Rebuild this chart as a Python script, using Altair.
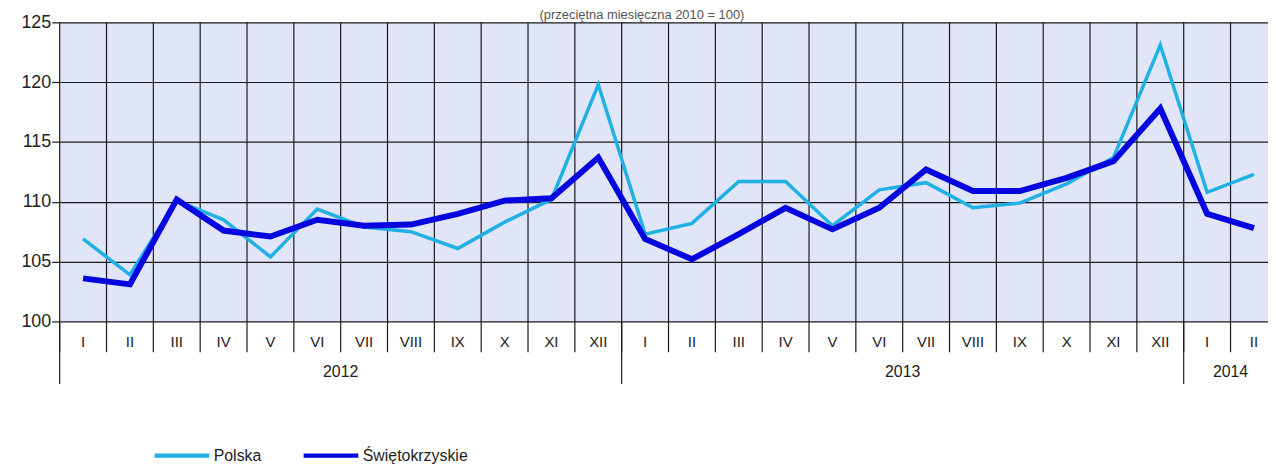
import altair as alt
import pandas as pd

# ---- data ----
months = ["I", "II", "III", "IV", "V", "VI", "VII", "VIII", "IX", "X", "XI", "XII",
          "I", "II", "III", "IV", "V", "VI", "VII", "VIII", "IX", "X", "XI", "XII",
          "I", "II"]
years = ["2012", "2013", "2014"]
year_centers = [6, 18, 25]
year_bounds = [0, 12, 24]
polska = [106.9, 103.9, 110.1, 108.5, 105.4, 109.4, 107.9, 107.5, 106.1, 108.3, 110.2, 119.8,
          107.3, 108.2, 111.7, 111.7, 108.0, 111.0, 111.6, 109.5, 109.9, 111.5, 113.7, 123.1,
          110.8, 112.3]
swietokrzyskie = [103.6, 103.1, 110.2, 107.6, 107.1, 108.5, 108.0, 108.1, 109.0, 110.1, 110.3, 113.7,
                  106.9, 105.2, 107.3, 109.5, 107.7, 109.5, 112.7, 110.9, 110.9, 112.0, 113.4, 117.8,
                  109.0, 107.8]
series_names = ["Polska", "Świętokrzyskie"]
series_colors = ["#1fb0e4", "#0505e0"]
title_text = "(przeciętna  miesięczna  2010 = 100)"

W, H = 1216, 301
FONT = "Liberation Sans"
GRID = "#1a1a1a"
TXT = "#222222"

n = len(months)
pos = [i + 0.5 for i in range(n)]
lines_df = pd.DataFrame({
    "pos": pos * 2,
    "value": polska + swietokrzyskie,
    "series": [series_names[0]] * n + [series_names[1]] * n,
})
months_df = pd.DataFrame({"pos": pos, "label": months})
bounds_df = pd.DataFrame({"b": list(range(n))})
years_df = pd.DataFrame({"pos": year_centers, "label": years})
ybounds_df = pd.DataFrame({"b": year_bounds})

xscale = alt.Scale(domain=[0, 25.8], nice=False, zero=False)
yscale = alt.Scale(domain=[100, 125], nice=False, zero=False)
color = alt.Color(
    "series:N",
    scale=alt.Scale(domain=series_names, range=series_colors),
    legend=alt.Legend(
        orient="none", legendX=93, legendY=406, direction="horizontal", title=None,
        symbolType="stroke", symbolSize=3025, symbolStrokeWidth=4.5,
        labelFontSize=16, labelFont=FONT, labelColor=TXT, labelOffset=2,
        columnPadding=32, padding=0,
    ),
)

# y axis + horizontal grid via an invisible layer
yaxis_layer = alt.Chart(lines_df).mark_line(opacity=0).encode(
    x=alt.X("pos:Q", scale=xscale, axis=None),
    y=alt.Y("value:Q", scale=yscale, axis=alt.Axis(
        values=[100, 105, 110, 115, 120, 125], title=None, grid=True,
        gridColor=GRID, gridWidth=1.2, gridOpacity=1, domain=False,
        tickColor=GRID, tickSize=8, tickWidth=1.2,
        labelFontSize=18, labelFont=FONT, labelColor=TXT, labelPadding=1,
    )),
)

vgrid = alt.Chart(bounds_df).mark_rule(color=GRID, strokeWidth=1.2).encode(
    x=alt.X("b:Q", scale=xscale, axis=None),
    y=alt.value(0), y2=alt.value(H + 31),
)
ygrid = alt.Chart(ybounds_df).mark_rule(color=GRID, strokeWidth=1.2).encode(
    x=alt.X("b:Q", scale=xscale, axis=None),
    y=alt.value(H), y2=alt.value(H + 63),
)
month_text = alt.Chart(months_df).mark_text(
    fontSize=15, font=FONT, color=TXT, baseline="middle", align="center"
).encode(
    x=alt.X("pos:Q", scale=xscale, axis=None),
    y=alt.value(H + 21), text="label:N",
)
year_text = alt.Chart(years_df).mark_text(
    fontSize=16, font=FONT, color=TXT, baseline="middle", align="center"
).encode(
    x=alt.X("pos:Q", scale=xscale, axis=None),
    y=alt.value(H + 51), text="label:N",
)

line_p = alt.Chart(lines_df).transform_filter(alt.datum.series == series_names[0]).mark_line(
    strokeWidth=3.5
).encode(
    x=alt.X("pos:Q", scale=xscale, axis=None),
    y=alt.Y("value:Q", scale=yscale),
    color=color,
)
line_s = alt.Chart(lines_df).transform_filter(alt.datum.series == series_names[1]).mark_line(
    strokeWidth=6, strokeJoin="miter"
).encode(
    x=alt.X("pos:Q", scale=xscale, axis=None),
    y=alt.Y("value:Q", scale=yscale),
    color=color,
)

title_mark = alt.Chart(pd.DataFrame({"t": [title_text]})).mark_text(
    fontSize=13, font=FONT, color="#555555", align="center", baseline="top"
).encode(x=alt.value(586), y=alt.value(-13), text="t:N")

chart = alt.layer(
    yaxis_layer, vgrid, ygrid, month_text, year_text, line_p, line_s, title_mark
).properties(
    width=W, height=H,
    autosize=alt.AutoSizeParams(type="none"),
    padding={"left": 52, "top": 13, "right": 0, "bottom": 144},
).configure(
    background="white",
    view=alt.ViewConfig(fill="#e1e5f8", stroke=None),
)

chart.save("out.html", embed_options={"renderer": "svg", "actions": False})
